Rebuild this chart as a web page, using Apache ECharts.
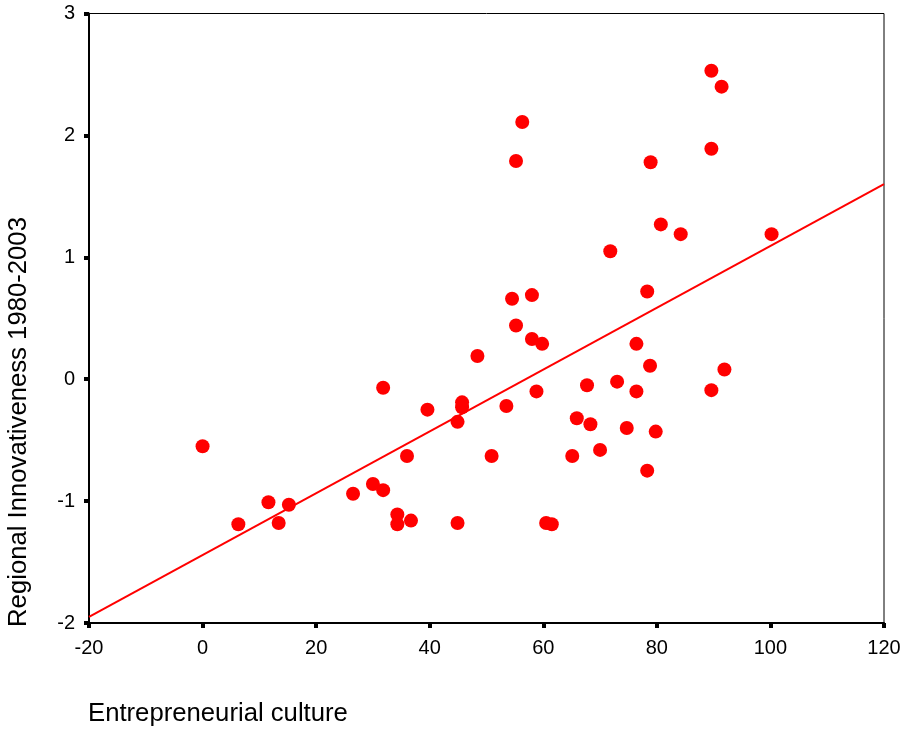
<!DOCTYPE html>
<html>
<head>
<meta charset="utf-8">
<script src="https://cdn.jsdelivr.net/npm/echarts@6/dist/echarts.min.js"></script>
<style>
html,body{margin:0;padding:0;background:#fff;}
#chart{width:907px;height:729px;}
</style>
</head>
<body>
<div id="chart"></div>
<script>
// Entrepreneurial culture (x) values
var cultureValues = [0, 6.3, 11.6, 13.4, 15.2, 26.5, 30.0, 31.8, 31.8, 34.3, 34.3, 36.0, 36.7, 39.6, 44.9, 44.9, 45.7, 45.7, 48.4, 50.9, 53.5, 54.5, 55.2, 55.2, 56.3, 58.0, 58.0, 58.8, 59.8, 60.5, 61.5, 65.1, 65.9, 67.7, 68.3, 70.0, 71.8, 73.0, 74.7, 76.4, 76.4, 78.3, 78.3, 78.8, 78.9, 79.8, 80.7, 84.2, 89.6, 89.6, 89.6, 91.4, 91.9, 100.2];
// Regional Innovativeness 1980-2003 (y) values
var innovValues = [-0.55, -1.19, -1.01, -1.18, -1.03, -0.94, -0.86, -0.91, -0.07, -1.11, -1.19, -0.63, -1.16, -0.25, -0.35, -1.18, -0.19, -0.23, 0.19, -0.63, -0.22, 0.66, 0.44, 1.79, 2.11, 0.69, 0.33, -0.10, 0.29, -1.18, -1.19, -0.63, -0.32, -0.05, -0.37, -0.58, 1.05, -0.02, -0.40, 0.29, -0.10, 0.72, -0.75, 0.11, 1.78, -0.43, 1.27, 1.19, 2.53, 1.89, -0.09, 2.40, 0.08, 1.19];
// Fit line end points
var fitX = [-20, 120];
var fitY = [-1.95, 1.60];
// Axis ticks
var xTicks = [-20, 0, 20, 40, 60, 80, 100, 120];
var yTicks = [-2, -1, 0, 1, 2, 3];

var xTitle = 'Entrepreneurial culture';
var yTitle = 'Regional Innovativeness 1980-2003';

var points = cultureValues.map(function (v, i) { return [v, innovValues[i]]; });
var fitLine = fitX.map(function (v, i) { return [v, fitY[i]]; });

var FONT = '"Liberation Sans", Arial, sans-serif';
var chart = echarts.init(document.getElementById('chart'), null, {renderer: 'canvas'});
chart.setOption({
  animation: false,
  backgroundColor: '#ffffff',
  grid: {
    left: 89, right: 23, top: 13.5, bottom: 106,
    show: true, borderColor: '#000', borderWidth: 1, backgroundColor: 'transparent'
  },
  xAxis: {
    type: 'value',
    min: xTicks[0], max: xTicks[xTicks.length - 1], interval: 20,
    axisLine: {show: true, onZero: false, lineStyle: {color: '#000', width: 2}},
    axisTick: {show: true, inside: false, length: 5, lineStyle: {color: '#000', width: 4}},
    axisLabel: {color: '#000', fontSize: 20, fontFamily: FONT, margin: 15},
    splitLine: {show: false}
  },
  yAxis: {
    type: 'value',
    min: yTicks[0], max: yTicks[yTicks.length - 1], interval: 1,
    axisLine: {show: true, onZero: false, lineStyle: {color: '#000', width: 2}},
    axisTick: {show: true, inside: false, length: 5, lineStyle: {color: '#000', width: 4}},
    axisLabel: {color: '#000', fontSize: 20, fontFamily: FONT, margin: 14},
    splitLine: {show: false}
  },
  graphic: [
    {
      type: 'text', left: 88, top: 701,
      style: {text: xTitle, fill: '#000', font: '25.7px ' + FONT}
    },
    {
      type: 'text', x: 19, y: 422, rotation: Math.PI / 2,
      style: {text: yTitle, fill: '#000', font: '25.7px ' + FONT, align: 'center', verticalAlign: 'middle'}
    }
  ],
  series: [
    {
      type: 'line', data: fitLine, symbol: 'none', z: 1,
      lineStyle: {color: '#ff0000', width: 2}
    },
    {
      type: 'scatter', data: points, symbol: 'circle', symbolSize: 14, z: 2,
      itemStyle: {color: '#ff0000', opacity: 1}
    }
  ]
});
</script>
</body>
</html>
